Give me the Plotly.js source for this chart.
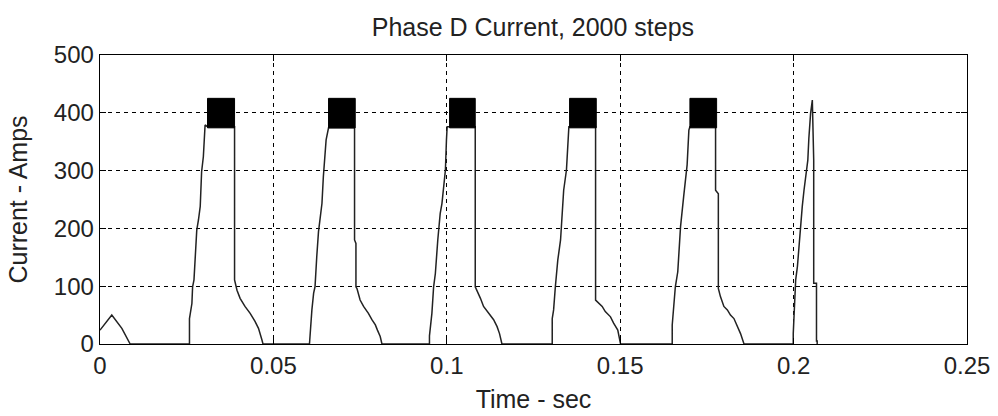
<!DOCTYPE html>
<html>
<head>
<meta charset="utf-8">
<script src="https://cdn.plot.ly/plotly-3.0.1.min.js"></script>
<style>html,body{margin:0;padding:0;background:#fff;}#chart{width:998px;height:416px;}</style>
</head>
<body>
<div id="chart"></div>
<script>
// Phase D current trace (time in s, current in A).
// Each line of timeSec matches the same line of currentAmps.
var timeSec = [
  0, 0.0034, 0.0063, 0.0087, 0.0258,
  0.0258, 0.0265, 0.0267, 0.0271, 0.0274, 0.0279, 0.0284, 0.0289, 0.0293, 0.0298, 0.0303, 0.0310,
  0.0388, 0.0388, 0.0395, 0.0404, 0.0418, 0.0433, 0.0447, 0.0457, 0.0467, 0.0470,
  0.0604, 0.0606, 0.0611, 0.0616, 0.0620, 0.0625, 0.0630, 0.0640, 0.0644, 0.0652, 0.0659,
  0.0734, 0.0734, 0.0738, 0.0738, 0.0741, 0.0750, 0.0760, 0.0774, 0.0784, 0.0794, 0.0800, 0.0808, 0.0813,
  0.0950, 0.0950, 0.0957, 0.0962, 0.0967, 0.0974, 0.0981, 0.0986, 0.0991, 0.0996, 0.0999, 0.1001, 0.1008,
  0.1082, 0.1082, 0.1087, 0.1097, 0.1106, 0.1121, 0.1135, 0.1145, 0.1152, 0.1159,
  0.1304, 0.1304, 0.1308, 0.1313, 0.1320, 0.1328, 0.1332, 0.1337, 0.1345, 0.1347, 0.1352, 0.1354,
  0.1429, 0.1429, 0.1438, 0.1448, 0.1457, 0.1472, 0.1481, 0.1493, 0.1501,
  0.1650, 0.1650, 0.1655, 0.1659, 0.1666, 0.1669, 0.1674, 0.1683, 0.1688, 0.1693, 0.1698, 0.1701,
  0.1775, 0.1775, 0.1783, 0.1783, 0.1789, 0.1799, 0.1809, 0.1818, 0.1828, 0.1837, 0.1842, 0.1847, 0.1857,
  0.1999, 0.1999, 0.2003, 0.2006, 0.2011, 0.2015, 0.2020, 0.2025, 0.2030, 0.2035, 0.2041, 0.2044, 0.2049, 0.2054,
  0.2057, 0.2058, 0.2058, 0.2066, 0.2066, 0.2068, 0.2068
];
var currentAmps = [
  24, 50, 27, 0, 0,
  44, 70, 99, 111, 145, 197, 215, 238, 298, 324, 379, 376,
  376, 111, 93, 79, 65, 53, 39, 27, 7, 0,
  0, 18, 59, 88, 99, 151, 194, 243, 289, 353, 374,
  374, 180, 174, 99, 96, 76, 65, 53, 42, 33, 24, 13, 0,
  0, 14, 53, 99, 122, 180, 226, 243, 278, 301, 353, 376, 376,
  376, 99, 93, 79, 65, 53, 42, 30, 18, 0,
  0, 44, 59, 99, 145, 180, 226, 266, 301, 324, 376, 376,
  376, 76, 70, 65, 56, 47, 36, 24, 0,
  0, 33, 65, 99, 125, 157, 203, 255, 289, 310, 370, 376,
  376, 266, 260, 96, 82, 65, 59, 50, 44, 33, 27, 18, 0,
  0, 18, 67, 111, 134, 168, 203, 238, 266, 295, 318, 356, 399, 422,
  318, 318, 105, 105, 5, 5, 0
];
// Current-chopping bands (dense oscillation drawn as solid blocks)
var chopStart = [0.0310, 0.0659, 0.1008, 0.1354, 0.1701];
var chopEnd   = [0.0388, 0.0736, 0.1082, 0.1431, 0.1778];
var chopLow   = [374, 374, 374, 374, 374];
var chopHigh  = [425, 425, 425, 425, 425];

var xTicks = [0, 0.05, 0.1, 0.15, 0.2, 0.25];
var xTickText = ['0', '0.05', '0.1', '0.15', '0.2', '0.25'];
var yTicks = [0, 100, 200, 300, 400, 500];
var yTickText = ['0', '100', '200', '300', '400', '500'];

var bx = [], by = [];
for (var i = 0; i < chopStart.length; i++) {
  bx.push(chopStart[i], chopEnd[i], chopEnd[i], chopStart[i], chopStart[i], null);
  by.push(chopLow[i], chopLow[i], chopHigh[i], chopHigh[i], chopLow[i], null);
}

var traces = [
  {x: timeSec, y: currentAmps, type: 'scatter', mode: 'lines',
   line: {color: '#222', width: 1.5}, hoverinfo: 'skip'},
  {x: bx, y: by, type: 'scatter', mode: 'lines', fill: 'toself',
   fillcolor: '#000', line: {color: '#000', width: 1}, hoverinfo: 'skip'}
];

var fontFam = '"Liberation Sans", Arial, sans-serif';
var layout = {
  width: 998, height: 416,
  margin: {l: 100, r: 31, t: 55, b: 72},
  paper_bgcolor: '#fff', plot_bgcolor: '#fff',
  showlegend: false,
  font: {family: fontFam, size: 24, color: '#222'},
  title: {text: 'Phase D Current, 2000 steps', font: {family: fontFam, size: 25, color: '#222'},
          x: 0.534, xanchor: 'center', y: 0.935, yanchor: 'middle'},
  xaxis: {
    range: [0, 0.25], tickvals: xTicks, ticktext: xTickText,
    showgrid: true, gridcolor: '#000', gridwidth: 1, griddash: '4px,4px',
    showline: true, linecolor: '#000', linewidth: 1.3, mirror: 'ticks',
    ticks: 'inside', ticklen: 6, tickcolor: '#000', zeroline: false,
    tickfont: {family: fontFam, size: 24, color: '#222'},
    title: {text: 'Time - sec', font: {family: fontFam, size: 25, color: '#222'}, standoff: 12}
  },
  yaxis: {
    range: [0, 500], tickvals: yTicks, ticktext: yTickText,
    showgrid: true, gridcolor: '#000', gridwidth: 1, griddash: '4px,4px',
    showline: true, linecolor: '#000', linewidth: 1.3, mirror: 'ticks',
    ticks: 'inside', ticklen: 6, tickcolor: '#000', zeroline: false,
    tickfont: {family: fontFam, size: 24, color: '#222'},
    title: {text: 'Current - Amps', font: {family: fontFam, size: 25, color: '#222'}, standoff: 19}
  }
};

Plotly.newPlot('chart', traces, layout, {staticPlot: true, displayModeBar: false});
</script>
</body>
</html>
